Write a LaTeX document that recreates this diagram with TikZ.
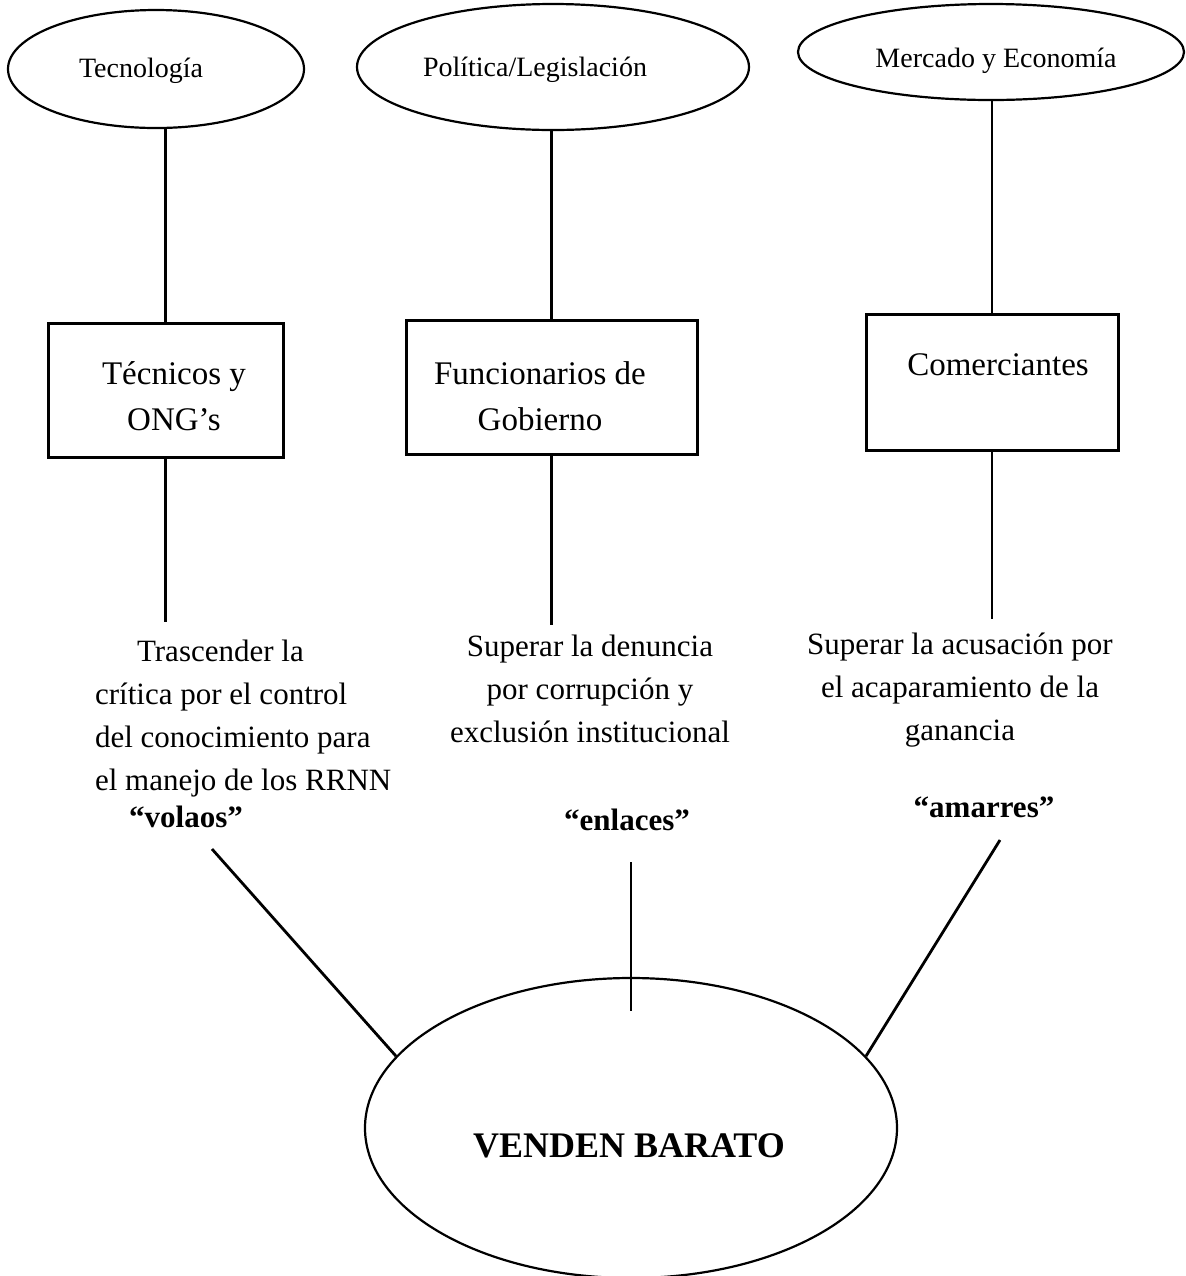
\documentclass[tikz,border=0pt]{standalone}
\usepackage{fontspec}
\setmainfont{Liberation Serif}
\usetikzlibrary{shapes.geometric,calc}
\begin{document}
\begin{tikzpicture}[x=0.5pt,y=-0.5pt,
  ell/.style={draw, ellipse, line width=1.1pt, inner sep=0pt},
  box/.style={draw, rectangle, line width=1.5pt, inner sep=0pt},
  elltext/.style={anchor=base, font=\fontsize{14}{16}\selectfont},
  boxtext/.style={anchor=base, align=center, font=\fontsize{16.5}{23}\selectfont},
  desc/.style={anchor=base, font=\fontsize{15.5}{21.5}\selectfont},
  quote/.style={anchor=base, font=\bfseries\fontsize{15.5}{18}\selectfont},
  conn/.style={line width=1.4pt}]
\useasboundingbox (0,0) rectangle (1186,1276);

% top ellipses
\node[ell, minimum width=148pt, minimum height=59pt] (e1) at (156,69) {};
\node[ell, minimum width=196pt, minimum height=63pt] (e2) at (553,67) {};
\node[ell, minimum width=193pt, minimum height=48pt] (e3) at (991,52) {};
\node[elltext] (e1t) at (141,77) {Tecnología};
\node[elltext] (e2t) at (535,76) {Política/Legislación};
\node[elltext] (e3t) at (996,67) {Mercado y Economía};

% boxes
\node[box, minimum width=117.5pt, minimum height=67pt] (b1) at (165.5,390) {};
\node[box, minimum width=145.5pt, minimum height=67pt] (b2) at (551.5,387) {};
\node[box, minimum width=126pt, minimum height=68pt] (b3) at (992,382) {};
\node[boxtext] (b1t) at (174,430) {Técnicos y\\ONG’s};
\node[boxtext] (b2t) at (540,430) {Funcionarios de\\Gobierno};
\node[boxtext] (b3t) at (998,375) {Comerciantes};

% connectors top
\draw[conn] (b1.north) -- (b1.north |- e1.south);
\draw[conn] (b2.north) -- (b2.north |- e2.south);
\draw[conn] (b3.north) -- (b3.north |- e3.south);

% connectors below boxes
\coordinate (d1) at (166,622);
\coordinate (d2) at (551,625);
\coordinate (d3) at (995,619);
\draw[conn] (b1.south) -- (b1.south |- d1);
\draw[conn] (b2.south) -- (b2.south |- d2);
\draw[conn] (b3.south) -- (b3.south |- d3);

% descriptions
\node[desc, anchor=base west, align=left] (l1) at (88,790)
  {\hspace*{21pt}Trascender la\\crítica por el control\\del conocimiento para\\el manejo de los RRNN};
\node[desc, align=center] (l2) at (590,742)
  {Superar la denuncia\\por corrupción y\\exclusión institucional};
\node[desc, align=center] (l3) at (960,740)
  {Superar la acusación por\\el acaparamiento de la\\ganancia};

% quoted labels
\node[quote] (v1) at (186,827) {“volaos”};
\node[quote] (v2) at (627,830) {“enlaces”};
\node[quote] (v3) at (984,817) {“amarres”};

% big ellipse
\node[ell, minimum width=266pt, minimum height=150pt] (big) at (631,1128) {};
\node[anchor=base, font=\bfseries\fontsize{18}{20}\selectfont] (bigt) at (629,1157) {VENDEN BARATO};

\coordinate (q1) at (212,849);
\coordinate (q2) at (631,862);
\coordinate (q3) at (1000,840);
\draw[conn] (q1) -- (big.163);
\draw[conn] (q2) -- ($(big.north)+(0,34)$);
\draw[conn] (q3) -- (big.17);
\end{tikzpicture}
\end{document}
